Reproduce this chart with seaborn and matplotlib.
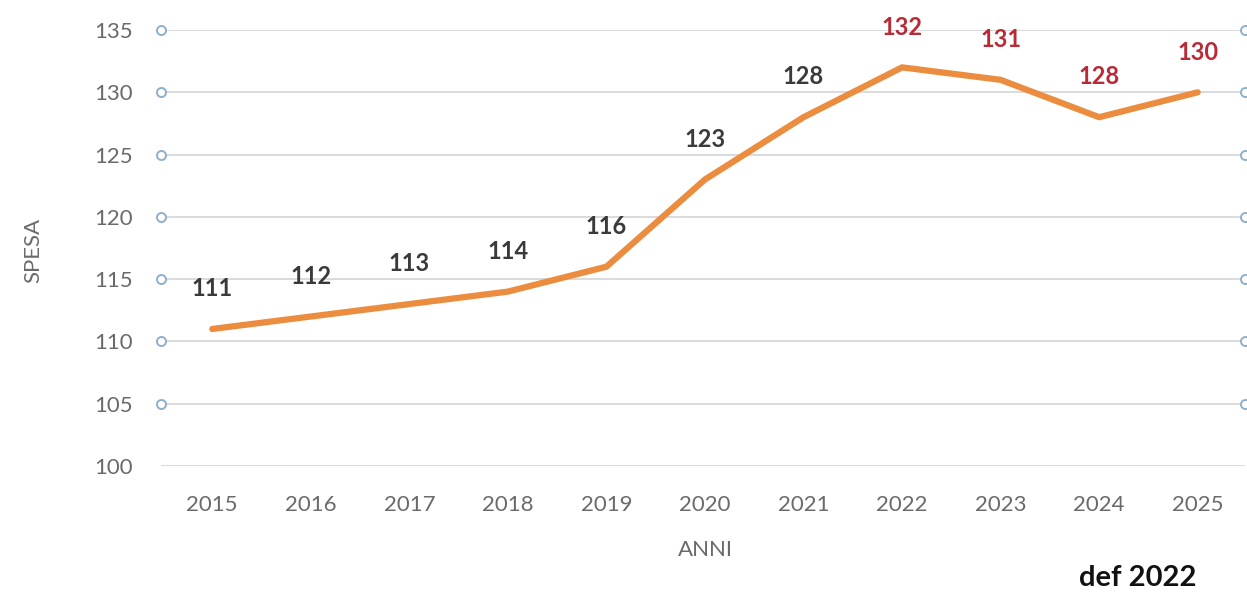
import matplotlib
matplotlib.use("Agg")
import matplotlib.pyplot as plt
import seaborn as sns
import pandas as pd

years = [2015, 2016, 2017, 2018, 2019, 2020, 2021, 2022, 2023, 2024, 2025]
spesa = [111, 112, 113, 114, 116, 123, 128, 132, 131, 128, 130]
label_colors = ["#3a3a3a"] * 7 + ["#b82a35"] * 4
y_ticks = [100, 105, 110, 115, 120, 125, 130, 135]

sns.set_theme(style="white")
plt.rcParams["font.family"] = ["Lato", "DejaVu Sans"]

df = pd.DataFrame({"ANNI": years, "SPESA": spesa})

fig = plt.figure(figsize=(12.47, 5.95), dpi=100)
ax = fig.add_axes([161 / 1247, 1 - 466 / 595, (1245 - 161) / 1247, (466 - 30) / 595])

# gridlines with small circle markers at ends
for t in y_ticks:
    ax.axhline(t, color="#dadada", lw=1.4, zorder=1)
    if t != 100:
        ax.plot([0, 1], [t, t], transform=ax.get_yaxis_transform(), ls="none",
                marker="o", ms=6.5, mfc="white", mec="#8fb0cc", mew=1.4,
                clip_on=False, zorder=2)

sns.lineplot(data=df, x="ANNI", y="SPESA", ax=ax, color="#EB8C3E", lw=4.5, zorder=3)

for x, y, c in zip(years, spesa, label_colors):
    ax.annotate(str(y), (x, y), xytext=(0, 29), textcoords="offset points",
                ha="center", va="center", fontsize=17, fontweight="bold", color=c)

ax.set_xlim(2014.48, 2025.48)
ax.set_ylim(100, 135)
ax.set_xticks(years)
ax.set_yticks(y_ticks)
ax.tick_params(axis="x", pad=21, labelsize=16, labelcolor="#6a6a6a", length=0)
ax.tick_params(axis="y", pad=20, labelsize=16, labelcolor="#6a6a6a", length=0)
for s in ax.spines.values():
    s.set_visible(False)

ax.set_xlabel("ANNI", fontsize=16, color="#6a6a6a")
ax.xaxis.set_label_coords((705 - 161) / (1245 - 161), -(550 - 466) / (466 - 30))
ax.set_ylabel("SPESA", fontsize=16, color="#6a6a6a")
ax.yaxis.set_label_coords(-(161 - 33) / (1245 - 161), (466 - 250) / (466 - 30))
ax.yaxis.label.set_va("center")
ax.xaxis.label.set_va("center")

fig.text(1138 / 1247, 1 - 578 / 595, "def 2022", ha="center", va="center",
         fontsize=21, fontweight="bold", color="#111111")

fig.savefig("out.png", dpi=100, facecolor="white")
